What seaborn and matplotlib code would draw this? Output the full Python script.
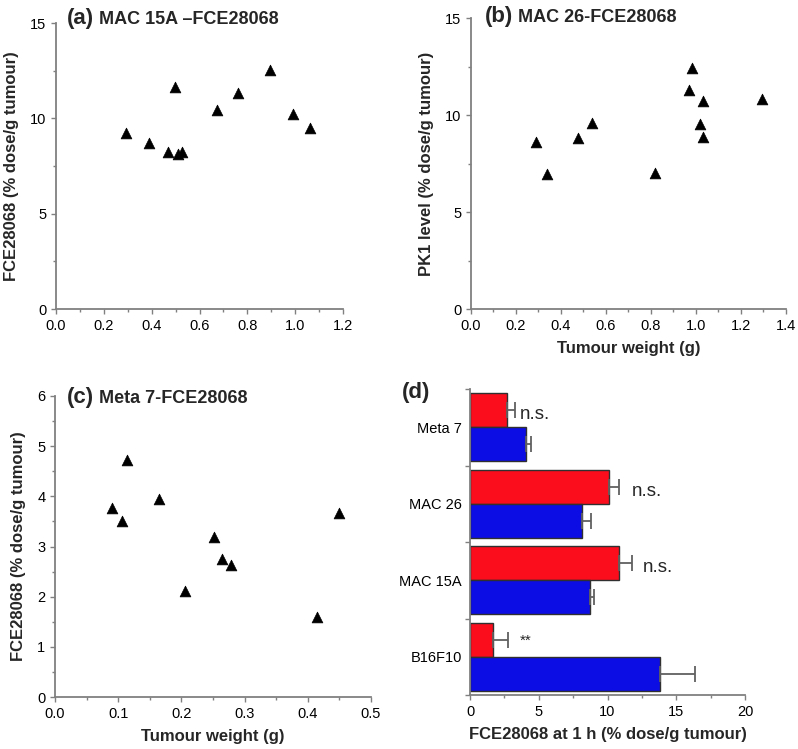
import numpy as np
import pandas as pd
import seaborn as sns
import matplotlib
matplotlib.use("Agg")
import matplotlib.pyplot as plt
from matplotlib.ticker import MultipleLocator, FixedLocator, NullFormatter

# (a) MAC 15A
mac15a_weight = [0.291, 0.389, 0.468, 0.497, 0.508, 0.528, 0.674, 0.760, 0.896, 0.990, 1.061]
mac15a_level = [9.21, 8.69, 8.22, 11.63, 8.11, 8.25, 10.44, 11.35, 12.55, 10.23, 9.49]

# (b) MAC 26
mac26_weight = [0.288, 0.338, 0.475, 0.538, 0.816, 0.970, 0.982, 1.032, 1.016, 1.032, 1.292]
mac26_level = [8.60, 6.96, 8.81, 9.60, 6.99, 11.28, 12.40, 10.71, 9.55, 8.86, 10.81]

# (c) Meta 7
meta7_weight = [0.091, 0.106, 0.1135, 0.165, 0.206, 0.251, 0.265, 0.279, 0.415, 0.449]
meta7_level = [3.76, 3.50, 4.72, 3.94, 2.11, 3.18, 2.76, 2.64, 1.59, 3.67]

# (d) bars, red = upper bar, blue = lower bar
tumours = ["Meta 7", "MAC 26", "MAC 15A", "B16F10"]
red_mean = [2.67, 10.13, 10.81, 1.65]
red_err = [0.60, 0.68, 0.95, 1.14]
blue_mean = [4.05, 8.17, 8.75, 13.79]
blue_err = [0.36, 0.61, 0.27, 2.60]
signif = ["n.s.", "n.s.", "n.s.", "**"]
signif_x = [3.64, 11.76, 12.6, 3.64]

sns.set_style("ticks")
plt.rcParams["font.family"] = ["Liberation Sans", "DejaVu Sans"]
plt.rcParams["axes.edgecolor"] = "#808080"
plt.rcParams["axes.linewidth"] = 1.3
plt.rcParams["xtick.color"] = "#808080"
plt.rcParams["ytick.color"] = "#808080"
plt.rcParams["xtick.labelcolor"] = "black"
plt.rcParams["ytick.labelcolor"] = "black"
plt.rcParams["xtick.labelsize"] = 10.5
plt.rcParams["ytick.labelsize"] = 10.5
plt.rcParams["xtick.major.size"] = 3.5
plt.rcParams["ytick.major.size"] = 3.5
plt.rcParams["xtick.minor.size"] = 2.5
plt.rcParams["ytick.minor.size"] = 2.5
plt.rcParams["xtick.major.width"] = 1.0
plt.rcParams["ytick.major.width"] = 1.0
plt.rcParams["xtick.minor.width"] = 1.0
plt.rcParams["ytick.minor.width"] = 1.0

fig = plt.figure(figsize=(7.98, 7.49), dpi=100)
ax_a = fig.add_axes([0.0702, 0.5874, 0.3597, 0.3818])
ax_b = fig.add_axes([0.5902, 0.5874, 0.3947, 0.3885])
ax_c = fig.add_axes([0.0689, 0.0694, 0.3960, 0.4019])
ax_d = fig.add_axes([0.5890, 0.0721, 0.3446, 0.4085])

label_font = dict(fontsize=12, fontweight="bold")


def panel_title(ax, letter, text, x, y):
    t1 = ax.text(x, y, letter, transform=ax.transAxes, fontsize=16,
                 fontweight="bold", va="baseline", ha="left")
    ax.annotate(text, xy=(1, y), xycoords=(t1, "axes fraction"),
                fontsize=13, fontweight="bold", va="baseline", ha="left")


def scatter_panel(ax, xs, ys, xmax, ymax, xmaj, ymaj):
    df = pd.DataFrame({"w": xs, "v": ys})
    sns.scatterplot(data=df, x="w", y="v", ax=ax, marker="^", color="black",
                    s=60, edgecolor="black", linewidth=0.5, clip_on=False)
    ax.set_xlim(0, xmax)
    ax.set_ylim(0, ymax)
    ax.xaxis.set_major_locator(MultipleLocator(xmaj))
    ax.xaxis.set_minor_locator(MultipleLocator(xmaj / 2))
    ax.yaxis.set_major_locator(MultipleLocator(ymaj))
    ax.yaxis.set_minor_locator(MultipleLocator(ymaj / 2))
    ax.xaxis.set_major_formatter(plt.FuncFormatter(lambda v, p: f"{v:.1f}"))
    ax.yaxis.set_major_formatter(plt.FuncFormatter(lambda v, p: f"{v:.0f}"))
    ax.set_xlabel("")
    ax.set_ylabel("")
    sns.despine(ax=ax)


# (a)
scatter_panel(ax_a, mac15a_weight, mac15a_level, 1.2, 15, 0.2, 5)
ax_a.set_ylabel("FCE28068 (% dose/g tumour)", labelpad=8, **label_font)
panel_title(ax_a, "(a)", " MAC 15A \u2013FCE28068", 0.038, 0.997)

# (b)
scatter_panel(ax_b, mac26_weight, mac26_level, 1.4, 15, 0.2, 5)
ax_b.set_ylabel("PK1 level (% dose/g tumour)", labelpad=8, **label_font)
ax_b.set_xlabel("Tumour weight (g)", labelpad=6, **label_font)
panel_title(ax_b, "(b)", " MAC 26-FCE28068", 0.044, 0.988)

# (c)
scatter_panel(ax_c, meta7_weight, meta7_level, 0.5, 6, 0.1, 1)
ax_c.set_ylabel("FCE28068 (% dose/g tumour)", labelpad=8, **label_font)
ax_c.set_xlabel("Tumour weight (g)", labelpad=6, **label_font)
panel_title(ax_c, "(c)", " Meta 7-FCE28068", 0.037, 0.977)

# (d)
bars = pd.DataFrame({
    "tumour": tumours * 2,
    "value": red_mean + blue_mean,
    "group": ["red"] * len(tumours) + ["blue"] * len(tumours),
})
sns.barplot(data=bars, y="tumour", x="value", hue="group", order=tumours,
            hue_order=["red", "blue"], palette={"red": "#fb0d1b", "blue": "#0c0ce4"},
            orient="h", width=0.89, errorbar=None, edgecolor="#303030",
            linewidth=1.0, saturation=1, ax=ax_d, legend=False)

for cont, errs in zip(ax_d.containers, [red_err, blue_err]):
    for patch, e in zip(cont.patches, errs):
        yc = patch.get_y() + patch.get_height() / 2
        xr = patch.get_width()
        ax_d.errorbar(xr, yc, xerr=[[0], [e]], fmt="none", ecolor="#606060",
                      elinewidth=1.3, capsize=5.5, capthick=1.3, zorder=1)

red_patches = ax_d.containers[0].patches
for patch, txt, sx in zip(red_patches, signif, signif_x):
    yc = patch.get_y() + patch.get_height() / 2
    if txt == "**":
        ax_d.text(sx, yc + 0.02, txt, fontsize=11, va="center", ha="left")
    else:
        ax_d.text(sx, yc + 0.06, txt, fontsize=13.5, va="center", ha="left")

ax_d.set_xlim(0, 20)
ax_d.set_ylim(len(tumours) - 0.5, -0.5)
ax_d.xaxis.set_major_locator(MultipleLocator(5))
ax_d.xaxis.set_minor_locator(MultipleLocator(2.5))
ax_d.yaxis.set_minor_locator(FixedLocator(np.arange(-0.5, len(tumours), 1.0)))
ax_d.yaxis.set_minor_formatter(NullFormatter())
ax_d.tick_params(axis="y", which="major", length=0, pad=6)
ax_d.tick_params(axis="y", which="minor", length=3.5)
ax_d.set_ylabel("")
ax_d.set_xlabel("FCE28068 at 1 h (% dose/g tumour)", labelpad=6, **label_font)
ax_d.text(-0.247, 0.97, "(d)", transform=ax_d.transAxes, fontsize=16,
          fontweight="bold", va="baseline", ha="left")
sns.despine(ax=ax_d)

fig.savefig("out.png", dpi=100)
